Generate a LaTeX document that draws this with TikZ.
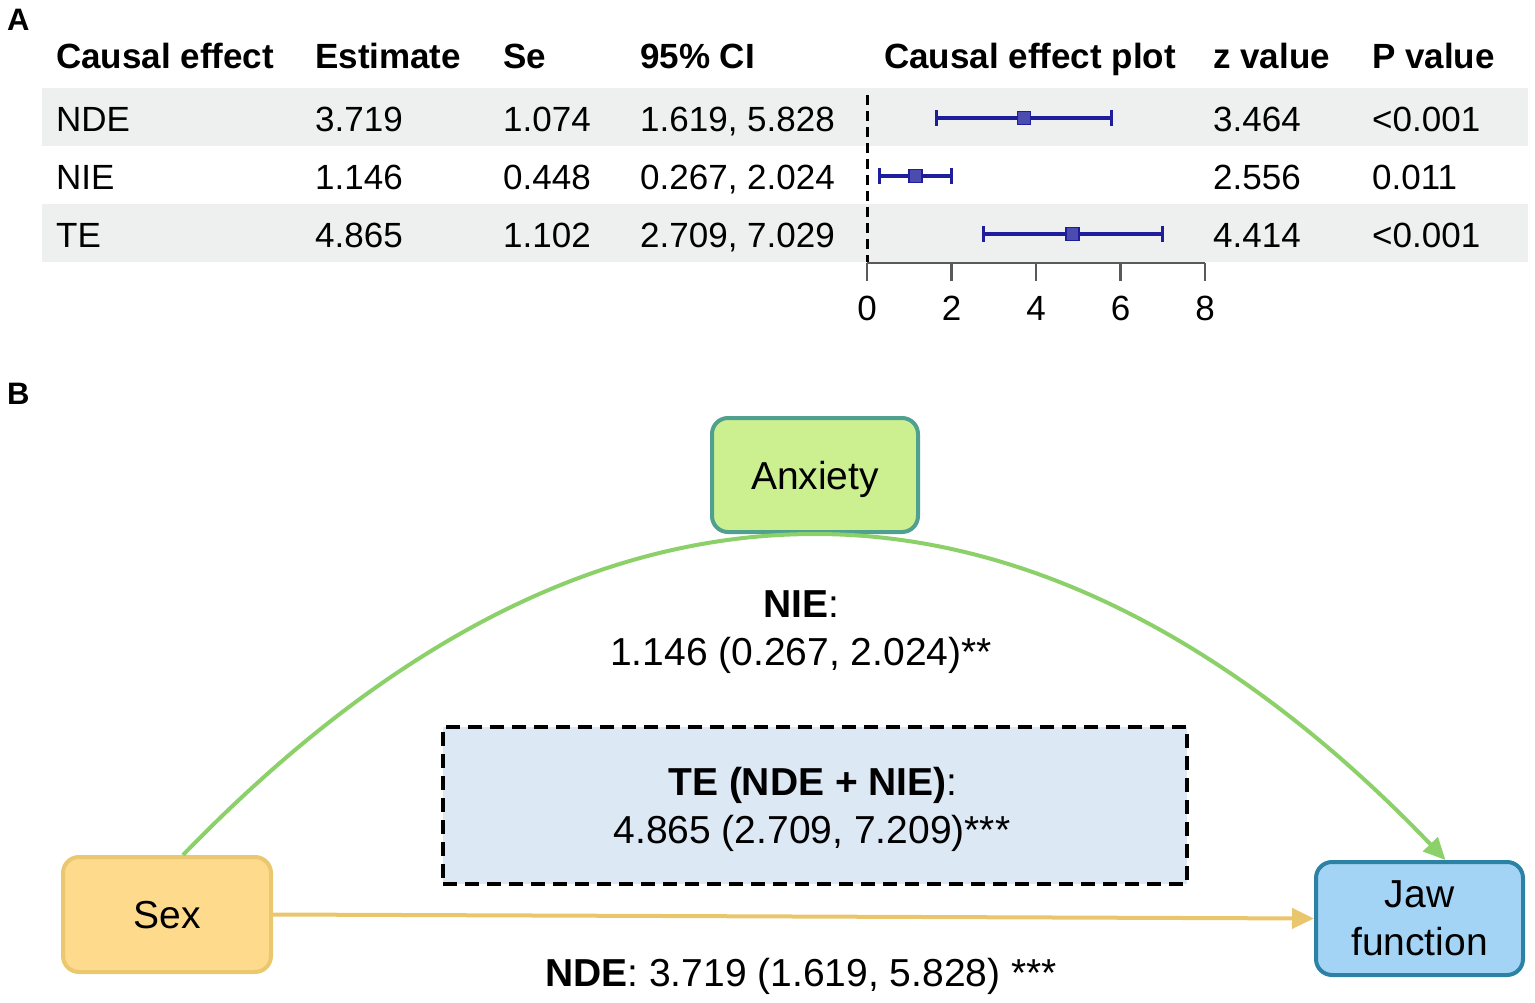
\documentclass[tikz,border=0pt]{standalone}
\usepackage{fontspec}
\setmainfont{Liberation Sans}
\usetikzlibrary{arrows.meta,calc}
\definecolor{rowgray}{HTML}{EEF0EF}
\definecolor{navy}{HTML}{1E1E9C}
\definecolor{anxfill}{HTML}{CCF08F}
\definecolor{anxdraw}{HTML}{4FA08F}
\definecolor{sexfill}{HTML}{FDDA8C}
\definecolor{sexdraw}{HTML}{EAC870}
\definecolor{jawfill}{HTML}{A3D4F6}
\definecolor{jawdraw}{HTML}{2C82A4}
\definecolor{tefill}{HTML}{DDE8F5}
\definecolor{niegreen}{HTML}{8CD06A}
\definecolor{ndeorange}{HTML}{E9C56B}
\begin{document}
\begin{tikzpicture}[x=1pt,y=-1pt,
  hdr/.style={anchor=base west,font=\fontsize{35}{42}\selectfont\bfseries,inner sep=0pt},
  cell/.style={anchor=base west,font=\fontsize{35}{42}\selectfont,inner sep=0pt},
  tick/.style={anchor=base,font=\fontsize{35}{42}\selectfont,inner sep=0pt},
  panel/.style={anchor=base west,font=\fontsize{31}{36}\selectfont\bfseries,inner sep=0pt},
  ci/.style={navy,line width=3.5pt,{Bar[width=16pt,line width=3pt]}-{Bar[width=16pt,line width=3pt]}},
  sq/.style={fill=navy!80,draw=navy,line width=1.5pt,minimum size=13pt,inner sep=0pt},
  varbox/.style={rounded corners=16pt,line width=4pt,align=center,inner sep=0pt,
    text depth=0pt,font=\fontsize{39}{48}\selectfont},
  lab/.style={anchor=base,font=\fontsize{39}{47}\selectfont,inner sep=0pt},
  arr/.style={-{Triangle[length=22pt,width=20pt]}}
]
\useasboundingbox (0,0) rectangle (1535,1003);

% ---------- Panel A ----------
\node[panel] (pA) at (7,31) {A};
\fill[rowgray] (42,88) rectangle (1528,146);
\fill[rowgray] (42,204) rectangle (1528,262);

\node[hdr] (h1) at (56,68.5) {Causal effect};
\node[hdr] (h2) at (315,68.5) {Estimate};
\node[hdr] (h3) at (503,68.5) {Se};
\node[hdr] (h4) at (640,68.5) {95\% CI};
\node[hdr] (h5) at (884,68.5) {Causal effect plot};
\node[hdr] (h6) at (1213,68.5) {z value};
\node[hdr] (h7) at (1372,68.5) {P value};

\node[cell] (r1a) at (56,131.5) {NDE};
\node[cell] (r1b) at (315,131.5) {3.719};
\node[cell] (r1c) at (503,131.5) {1.074};
\node[cell] (r1d) at (640,131.5) {1.619, 5.828};
\node[cell] (r1e) at (1213,131.5) {3.464};
\node[cell] (r1f) at (1372,131.5) {<0.001};

\node[cell] (r2a) at (56,189.5) {NIE};
\node[cell] (r2b) at (315,189.5) {1.146};
\node[cell] (r2c) at (503,189.5) {0.448};
\node[cell] (r2d) at (640,189.5) {0.267, 2.024};
\node[cell] (r2e) at (1213,189.5) {2.556};
\node[cell] (r2f) at (1372,189.5) {0.011};

\node[cell] (r3a) at (56,247.5) {TE};
\node[cell] (r3b) at (315,247.5) {4.865};
\node[cell] (r3c) at (503,247.5) {1.102};
\node[cell] (r3d) at (640,247.5) {2.709, 7.029};
\node[cell] (r3e) at (1213,247.5) {4.414};
\node[cell] (r3f) at (1372,247.5) {<0.001};

% forest plot
\draw[black,line width=3pt,dash pattern=on 10pt off 6pt] (867,95) -- (867,262);
\draw[black!65,line width=2.5pt] (867,263) -- (1205,263);
\foreach \v in {0,2,4,6,8}{
  \draw[black!65,line width=2.5pt] ({867+42.25*\v},263) -- ({867+42.25*\v},281);
  \node[tick] at ({867+42.25*\v},320.5) {\v};
}
\draw[ci] (935.4,118) -- (1113.2,118);
\node[sq] at (1024.1,118) {};
\draw[ci] (878.3,176) -- (952.5,176);
\node[sq] at (915.4,176) {};
\draw[ci] (981.5,234) -- (1164.0,234);
\node[sq] at (1072.5,234) {};

% ---------- Panel B ----------
\node[panel] (pB) at (7,404) {B};

\node[draw=black,fill=tefill,line width=4pt,dash pattern=on 14pt off 8pt,
  minimum width=744pt,minimum height=157pt] (te) at (815,805.5) {};
\node[lab] (telab) at (813,795) {\textbf{TE (NDE + NIE)}:};
\node[lab] (teval) at (812,843) {4.865 (2.709, 7.209)***};

\node[varbox,fill=anxfill,draw=anxdraw,minimum width=206pt,minimum height=114pt] (anx) at (815,475) {Anxiety};
\node[varbox,fill=sexfill,draw=sexdraw,minimum width=208pt,minimum height=115pt] (sex) at (167,914.5) {Sex};
\node[varbox,fill=jawfill,draw=jawdraw,minimum width=207pt,minimum height=113pt] (jaw) at (1419.5,918.5) {Jaw\\function};

% mediation path
\draw[niegreen,line width=4pt,arr]
  ([xshift=16pt]sex.north)
  .. controls ($(sex.north)+(226,-217)$) and ($(anx.south)+(-211,0)$) .. (anx.south)
  .. controls ($(anx.south)+(210,0)$) and ($(jaw.north)+(-184,-219)$) .. ([xshift=26pt]jaw.north);

% direct path
\draw[ndeorange,line width=4pt,arr] (sex.east) -- (jaw.west);

\node[lab] (nielab) at (801,617) {\textbf{NIE}:};
\node[lab] (nieval) at (801,665) {1.146 (0.267, 2.024)**};
\node[lab] (ndelab) at (801,986) {\textbf{NDE}: 3.719 (1.619, 5.828) ***};
\end{tikzpicture}
\end{document}
